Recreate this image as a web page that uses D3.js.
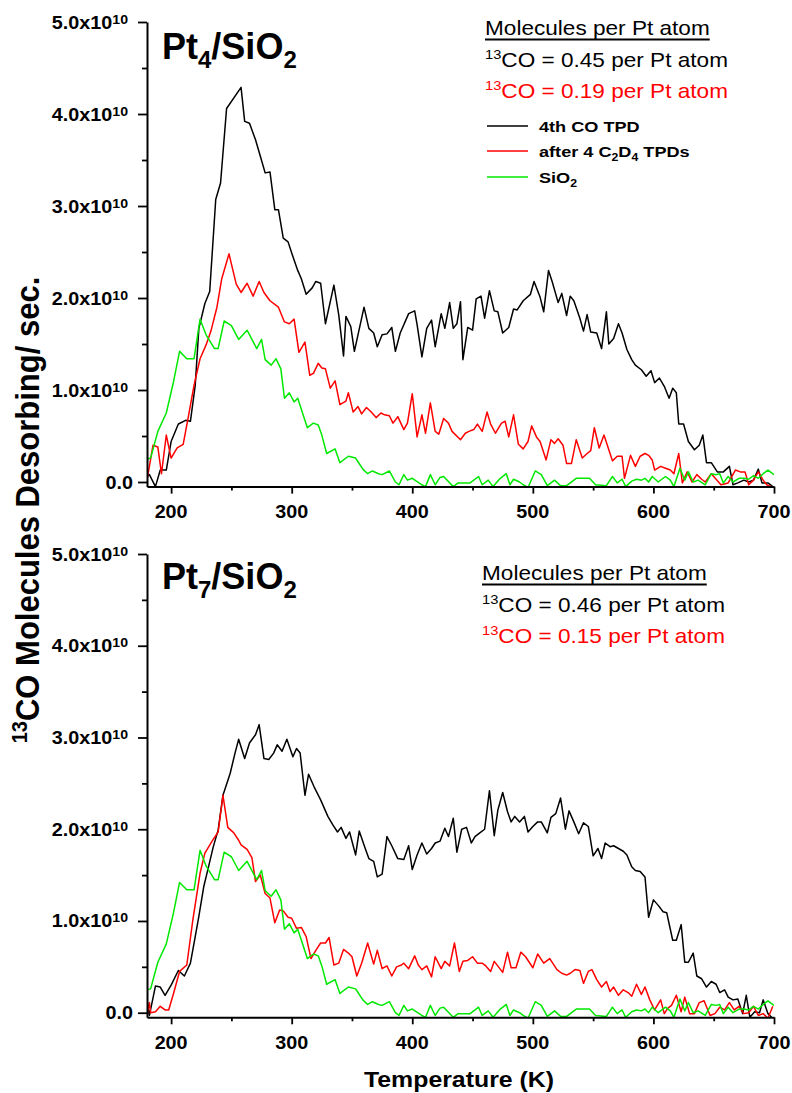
<!DOCTYPE html>
<html>
<head>
<meta charset="utf-8">
<script src="https://cdn.jsdelivr.net/npm/d3@7"></script>
<style>
  body { margin: 0; background: #fff; }
  text { font-family: Arial, "Liberation Sans", sans-serif; }
</style>
</head>
<body>
<div id="chart"></div>
<script>
// values, [temperature K, molecules/sec in units of 1e10]
const pt4Tpd = [[180,0.06],[182,0.08],[187,-0.05],[191,0.13],[196,0.13],[200,0.44],[206,0.63],[212,0.67],[216,0.66],[220,1.05],[223,1.67],[228,1.94],[232,2.07],[237,3.07],[241,3.25],[246,4.06],[258,4.29],[261,3.92],[265,3.90],[270,3.72],[274,3.54],[278,3.36],[282,3.37],[286,2.96],[289,2.96],[293,2.65],[297,2.61],[301,2.45],[305,2.30],[308,2.21],[312,2.04],[317,2.11],[320,2.18],[324,2.16],[328,1.72],[335,2.14],[339,1.82],[343,1.37],[345,1.80],[349,1.69],[352,1.42],[360,1.90],[364,1.67],[368,1.62],[371,1.47],[375,1.60],[379,1.61],[383,1.68],[386,1.42],[390,1.62],[397,1.83],[402,1.86],[404,1.71],[408,1.36],[412,1.67],[416,1.76],[419,1.47],[424,1.83],[427,1.67],[431,1.95],[434,1.67],[437,1.72],[440,1.96],[442,1.33],[446,1.68],[450,1.65],[453,1.99],[457,2.02],[460,1.78],[464,2.08],[468,1.86],[471,1.85],[475,1.62],[480,1.68],[484,1.88],[487,1.87],[492,1.97],[498,2.04],[501,2.18],[506,2.01],[509,1.85],[513,2.30],[516,2.18],[521,1.95],[524,2.05],[528,1.81],[531,2.02],[534,1.97],[539,1.78],[542,1.64],[545,1.82],[548,1.63],[553,1.62],[557,1.45],[561,1.85],[563,1.50],[567,1.56],[571,1.72],[574,1.62],[578,1.44],[582,1.33],[585,1.27],[590,1.22],[594,1.15],[598,1.21],[601,1.08],[605,1.13],[609,1.04],[613,0.91],[616,1.02],[619,0.97],[621,0.63],[625,0.63],[629,0.44],[634,0.35],[638,0.40],[641,0.51],[644,0.21],[648,0.21],[653,0.11],[658,0.11],[663,0.17],[666,-0.03],[670,-0.01],[675,0.02],[679,0.0],[683,0.02],[687,0.14],[690,-0.01],[695,-0.01],[699,-0.05]];

const pt4After = [[180,0.02],[185,0.40],[189,0.38],[192,0.09],[196,0.51],[200,0.26],[205,0.37],[210,0.41],[214,0.69],[219,1.05],[224,1.34],[229,1.49],[233,1.64],[238,1.90],[242,2.21],[248,2.48],[254,2.15],[258,2.06],[263,2.16],[268,2.02],[273,2.18],[277,2.06],[282,1.97],[289,1.90],[294,1.74],[298,1.72],[302,1.77],[306,1.41],[311,1.52],[315,1.16],[318,1.18],[322,1.29],[325,1.24],[328,1.23],[332,1.02],[336,1.10],[340,0.84],[345,0.88],[347,0.97],[351,0.76],[355,0.82],[358,0.74],[362,0.81],[366,0.76],[370,0.70],[374,0.75],[377,0.73],[381,0.72],[384,0.64],[388,0.71],[393,0.57],[396,0.64],[400,0.96],[404,0.49],[408,0.73],[411,0.53],[415,0.86],[419,0.55],[422,0.52],[426,0.69],[430,0.64],[433,0.55],[440,0.46],[444,0.53],[447,0.55],[451,0.57],[454,0.63],[458,0.55],[462,0.76],[465,0.63],[469,0.53],[474,0.64],[477,0.66],[480,0.49],[484,0.73],[488,0.41],[492,0.36],[496,0.44],[499,0.61],[503,0.49],[506,0.44],[511,0.24],[515,0.46],[518,0.42],[521,0.47],[525,0.40],[528,0.20],[532,0.20],[536,0.46],[541,0.26],[545,0.31],[548,0.34],[551,0.59],[555,0.37],[559,0.51],[563,0.35],[566,0.23],[570,0.28],[574,0.28],[576,0.04],[581,0.29],[585,0.17],[589,0.28],[593,0.31],[596,0.29],[599,0.24],[601,0.13],[606,0.17],[610,0.15],[614,0.13],[617,0.09],[621,0.31],[624,-0.01],[628,0.11],[632,0.0],[636,0.08],[640,0.03],[643,0.0],[648,0.09],[652,0.03],[656,-0.03],[662,-0.01],[668,0.13],[672,0.11],[676,0.11],[679,-0.03],[683,0.02],[687,0.11],[691,0.02],[694,-0.03],[699,-0.06]];

// the bare SiO2 support trace is the same in both panels
const sio2 = [[180,0.25],[183,0.26],[189,0.55],[196,0.75],[202,1.09],[207,1.42],[213,1.34],[219,1.34],[224,1.77],[229,1.60],[236,1.45],[239,1.45],[244,1.75],[250,1.70],[256,1.55],[263,1.65],[271,1.45],[275,1.55],[278,1.33],[283,1.27],[287,1.34],[291,1.23],[294,0.91],[298,0.97],[302,0.87],[305,0.91],[313,0.59],[318,0.64],[322,0.62],[325,0.51],[329,0.31],[336,0.36],[340,0.21],[347,0.28],[353,0.26],[355,0.22],[359,0.14],[363,0.09],[367,0.12],[372,0.09],[375,0.08],[381,0.12],[386,0.0],[389,-0.03],[393,0.08],[396,0.02],[400,0.04],[408,-0.03],[411,-0.05],[415,0.08],[419,-0.03],[423,0.05],[426,0.06],[434,-0.05],[438,-0.01],[444,-0.01],[448,-0.01],[455,0.06],[458,-0.03],[463,0.02],[467,-0.05],[473,0.04],[478,0.09],[481,-0.03],[484,0.03],[489,0.0],[492,-0.03],[496,-0.06],[502,0.12],[507,0.08],[512,-0.04],[518,0.02],[523,-0.04],[528,-0.04],[536,0.04],[547,0.04],[552,-0.03],[561,-0.04],[566,0.06],[570,-0.01],[574,0.03],[577,-0.05],[582,0.01],[586,0.03],[590,0.02],[593,0.04],[596,0.0],[599,0.06],[604,0.0],[610,0.06],[614,0.02],[617,-0.05],[622,0.15],[626,0.02],[629,0.11],[633,0.0],[637,0.02],[643,-0.03],[648,0.09],[652,0.08],[655,0.09],[658,-0.01],[662,0.06],[666,0.0],[671,0.04],[675,0.04],[679,0.03],[683,0.07],[687,0.04],[691,0.09],[695,0.13],[700,0.08]];

const pt7Tpd = [[180,0.14],[182,-0.03],[187,0.29],[191,0.28],[195,0.19],[200,0.30],[206,0.46],[211,0.40],[216,0.54],[220,0.83],[223,1.05],[227,1.37],[231,1.59],[235,1.81],[239,1.99],[243,2.37],[249,2.61],[253,2.83],[256,2.98],[261,2.77],[265,2.94],[270,3.03],[273,3.14],[277,2.77],[281,2.76],[285,2.83],[288,2.92],[292,2.85],[296,2.98],[301,2.79],[304,2.88],[307,2.83],[311,2.37],[314,2.60],[319,2.45],[324,2.32],[330,2.14],[334,2.05],[338,1.97],[341,2.02],[345,1.90],[348,1.97],[353,1.72],[356,1.98],[361,1.79],[364,1.68],[368,1.65],[371,1.48],[375,1.51],[379,1.92],[383,1.82],[388,1.68],[393,1.67],[397,1.82],[400,1.56],[404,1.72],[408,1.85],[412,1.73],[416,1.79],[419,1.85],[423,1.87],[427,2.01],[430,1.92],[434,2.12],[437,1.75],[441,2.0],[445,2.02],[449,1.85],[452,1.92],[456,1.96],[460,2.0],[464,2.42],[468,1.93],[471,2.21],[475,2.40],[479,2.19],[482,2.08],[485,2.14],[489,2.08],[493,2.14],[496,1.97],[500,2.03],[504,2.08],[507,2.08],[512,1.96],[515,2.13],[519,2.17],[523,2.34],[527,2.0],[530,2.20],[534,2.08],[538,1.95],[542,2.07],[546,2.03],[550,1.71],[554,1.79],[557,1.68],[560,1.85],[564,1.81],[567,1.82],[571,1.79],[575,1.76],[578,1.72],[582,1.59],[585,1.55],[589,1.54],[593,1.48],[596,1.04],[600,1.23],[604,1.17],[608,1.10],[611,1.09],[616,0.79],[619,0.79],[623,0.96],[626,0.55],[629,0.55],[633,0.65],[636,0.40],[640,0.37],[644,0.28],[648,0.34],[652,0.31],[655,0.22],[659,0.25],[662,0.17],[666,0.14],[670,0.15],[674,-0.01],[677,0.19],[680,-0.05],[684,0.01],[688,0.0],[691,0.14],[695,-0.01],[698,-0.05]];

const pt7After = [[180,-0.03],[182,0.11],[183,0.0],[187,0.01],[191,0.07],[195,0.03],[198,0.03],[202,0.21],[207,0.45],[213,0.52],[218,1.01],[224,1.52],[228,1.74],[234,1.87],[239,1.97],[243,2.37],[247,2.02],[252,1.96],[256,1.88],[258,1.83],[263,1.78],[267,1.69],[270,1.43],[274,1.50],[278,1.30],[282,1.25],[286,0.98],[290,1.12],[293,1.11],[297,1.04],[300,1.03],[304,0.92],[308,0.93],[312,0.83],[316,0.59],[320,0.68],[324,0.76],[328,0.76],[331,0.82],[335,0.52],[339,0.54],[343,0.69],[347,0.65],[350,0.61],[354,0.40],[358,0.54],[363,0.76],[368,0.53],[371,0.68],[375,0.48],[379,0.51],[383,0.40],[387,0.50],[391,0.52],[393,0.54],[397,0.48],[402,0.62],[405,0.52],[408,0.47],[412,0.51],[416,0.39],[419,0.61],[424,0.48],[427,0.56],[431,0.51],[435,0.76],[439,0.45],[442,0.56],[446,0.57],[450,0.61],[454,0.54],[458,0.54],[461,0.51],[465,0.45],[468,0.56],[475,0.44],[479,0.66],[482,0.49],[486,0.49],[490,0.66],[494,0.61],[500,0.49],[504,0.64],[509,0.54],[514,0.59],[520,0.47],[524,0.43],[528,0.41],[531,0.43],[535,0.47],[539,0.46],[542,0.32],[546,0.45],[549,0.47],[553,0.36],[557,0.28],[561,0.34],[564,0.23],[567,0.28],[571,0.19],[575,0.25],[579,0.22],[582,0.18],[586,0.31],[590,0.20],[593,0.28],[597,0.14],[601,0.03],[606,0.14],[609,-0.01],[612,0.05],[615,0.08],[619,0.19],[623,0.01],[626,0.17],[630,-0.01],[634,-0.01],[638,0.11],[642,0.13],[647,-0.03],[651,-0.01],[655,0.06],[659,0.03],[663,0.11],[667,0.03],[671,0.07],[675,-0.01],[679,0.0],[683,0.07],[687,-0.03],[691,-0.01],[695,-0.06],[699,0.07]];

const xTicks = [200, 300, 400, 500, 600, 700];
const xMinorTicks = [250, 350, 450, 550, 650];
const yTicks = [0, 1, 2, 3, 4, 5];
const yMinorTicks = [0.5, 1.5, 2.5, 3.5, 4.5];
const coverage4 = ['0.45', '0.19'];
const coverage7 = ['0.46', '0.15'];
const seriesColors = ['#000000', '#ff0000', '#00e800'];
// legend labels split in [text, isSubscript] pieces
const legendLabels = [
    [['4th CO TPD', false]],
    [['after 4 C', false], ['2', true], ['D', false], ['4', true], [' TPDs', false]],
    [['SiO', false], ['2', true]]
];

const W = 792, H = 1093;
const SX = 1.13; // the figure text is a bit wider than plain Arial

function stretchText(parent, x, y, anchor, sx) {
    return parent.append('text')
        .attr('transform', `translate(${x},${y}) scale(${sx || SX},1)`)
        .attr('text-anchor', anchor);
}

function render() {
    const svg = d3.select('#chart').append('svg')
        .attr('width', W)
        .attr('height', H);

    const x = d3.scaleLinear().domain([180, 700]).range([147, 774]);

    const panels = [
        { sub: '4', yRange: [486.6, 22], titleY: 59, annX: 485, annY: [35, 67, 98],
          coverage: coverage4, series: [pt4Tpd, pt4After, sio2], legend: true },
        { sub: '7', yRange: [1017.3, 554], titleY: 589, annX: 482, annY: [580, 612, 643],
          coverage: coverage7, series: [pt7Tpd, pt7After, sio2], legend: false }
    ];

    panels.forEach(function(p, pi) {
        const y = d3.scaleLinear().domain([-0.05, 5]).range(p.yRange);
        const g = svg.append('g');
        const axisY = p.yRange[0];

        // clip the traces to the plotting box
        g.append('clipPath').attr('id', 'clip' + pi)
            .append('rect')
            .attr('x', x.range()[0]).attr('y', p.yRange[1] - 5)
            .attr('width', x.range()[1] - x.range()[0])
            .attr('height', axisY - p.yRange[1] + 5);

        const line = d3.line().x(d => x(d[0])).y(d => y(d[1]));
        p.series.forEach(function(s, si) {
            g.append('path')
                .datum(s)
                .attr('d', line)
                .attr('clip-path', `url(#clip${pi})`)
                .attr('fill', 'none')
                .attr('stroke', seriesColors[si])
                .attr('stroke-width', 1.5)
                .attr('stroke-linejoin', 'round');
        });

        // axes: lines and ticks by d3, labels added by hand for the x10 exponent
        g.append('g').attr('transform', `translate(0,${axisY})`)
            .call(d3.axisBottom(x).tickValues(xTicks).tickSize(7).tickSizeOuter(0).tickFormat(''));
        g.append('g').attr('transform', `translate(0,${axisY})`)
            .call(d3.axisBottom(x).tickValues(xMinorTicks).tickSize(4).tickSizeOuter(0).tickFormat(''))
            .select('.domain').remove();
        g.append('g').attr('transform', `translate(${x.range()[0]},0)`)
            .call(d3.axisLeft(y).tickValues(yTicks).tickSize(9).tickSizeOuter(0).tickFormat(''));
        g.append('g').attr('transform', `translate(${x.range()[0]},0)`)
            .call(d3.axisLeft(y).tickValues(yMinorTicks).tickSize(5).tickSizeOuter(0).tickFormat(''))
            .select('.domain').remove();
        g.selectAll('.domain').attr('stroke', '#000').attr('stroke-width', 2);
        g.selectAll('.tick line').attr('stroke', '#000').attr('stroke-width', 1.8);

        xTicks.forEach(function(t) {
            stretchText(g, x(t), axisY + 31.5, 'middle')
                .attr('font-size', 17.5).attr('font-weight', 'bold')
                .text(t);
        });

        yTicks.forEach(function(t) {
            if (t === 0) {
                stretchText(g, 133, y(t) + 6.5, 'end')
                    .attr('font-size', 17.5).attr('font-weight', 'bold')
                    .text('0.0');
            } else {
                const tx = stretchText(g, 128, y(t) + 6.5, 'end')
                    .attr('font-size', 17.5).attr('font-weight', 'bold');
                tx.append('tspan').text(t.toFixed(1) + 'x10');
                tx.append('tspan').attr('font-size', 12.5).attr('dy', -5).text('10');
            }
        });

        // panel title
        const title = g.append('text')
            .attr('x', 162).attr('y', p.titleY)
            .attr('font-size', 36).attr('font-weight', 'bold');
        title.append('tspan').text('Pt');
        title.append('tspan').attr('font-size', 24).attr('dy', 9).text(p.sub);
        title.append('tspan').attr('dy', -9).text('/SiO');
        title.append('tspan').attr('font-size', 24).attr('dy', 9).text('2');

        // coverage annotation
        const head = stretchText(g, p.annX, p.annY[0], 'start')
            .attr('font-size', 20).text('Molecules per Pt atom');
        const hw = head.node().getComputedTextLength() * SX;
        g.append('line')
            .attr('x1', p.annX).attr('x2', p.annX + hw)
            .attr('y1', p.annY[0] + 4.5).attr('y2', p.annY[0] + 4.5)
            .attr('stroke', '#000').attr('stroke-width', 1.8);
        p.coverage.forEach(function(c, ci) {
            const t = stretchText(g, p.annX, p.annY[ci + 1], 'start')
                .attr('font-size', 20)
                .attr('fill', seriesColors[ci]);
            t.append('tspan').attr('font-size', 13).attr('dy', -8).text('13');
            t.append('tspan').attr('dy', 8).text(`CO = ${c} per Pt atom`);
        });

        if (p.legend) {
            const legY = [126, 151, 177];
            legendLabels.forEach(function(parts, li) {
                g.append('line')
                    .attr('x1', 487).attr('x2', 528)
                    .attr('y1', legY[li]).attr('y2', legY[li])
                    .attr('stroke', seriesColors[li]).attr('stroke-width', 1.5);
                const t = stretchText(g, 539, legY[li] + 6, 'start', 1.17)
                    .attr('font-size', 15.5).attr('font-weight', 'bold');
                let down = false;
                parts.forEach(function(pt) {
                    const ts = t.append('tspan').text(pt[0]);
                    if (pt[1] && !down) { ts.attr('font-size', 10.5).attr('dy', 4); down = true; }
                    else if (!pt[1] && down) { ts.attr('dy', -4); down = false; }
                });
            });
        }
    });

    // shared axis titles
    const yt = svg.append('text')
        .attr('transform', `translate(39,510) scale(1.08,1) rotate(-90)`)
        .attr('text-anchor', 'middle')
        .attr('font-size', 31).attr('font-weight', 'bold');
    yt.append('tspan').attr('font-size', 20).attr('dy', -11).text('13');
    yt.append('tspan').attr('dy', 11).text('CO Molecules Desorbing/ sec.');

    stretchText(svg, 459, 1087, 'middle')
        .attr('font-size', 22).attr('font-weight', 'bold')
        .text('Temperature (K)');
}

render();
</script>
</body>
</html>
